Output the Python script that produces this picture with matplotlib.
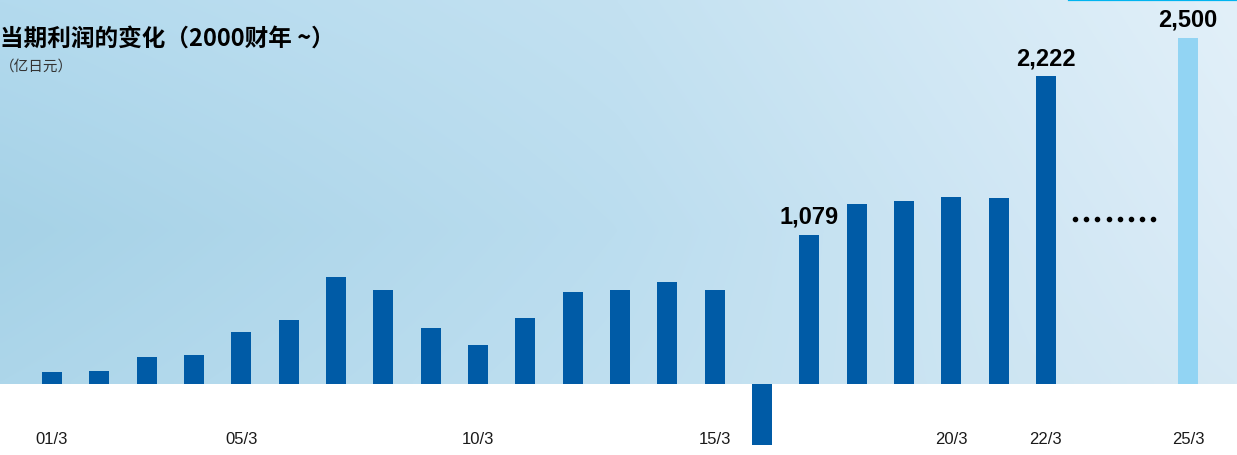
import numpy as np
import matplotlib
matplotlib.use("Agg")
import matplotlib.pyplot as plt
from matplotlib.lines import Line2D

# net profit by fiscal year end (100 million yen)
years = ["01/3", "02/3", "03/3", "04/3", "05/3", "06/3", "07/3", "08/3",
         "09/3", "10/3", "11/3", "12/3", "13/3", "14/3", "15/3", "16/3",
         "17/3", "18/3", "19/3", "20/3", "21/3", "22/3"]
profit = [85, 93, 192, 206, 377, 463, 776, 676,
          406, 278, 477, 662, 676, 733, 676, -440,
          1079, 1303, 1324, 1353, 1346, 2222]

forecast_year = "25/3"
forecast_value = 2500

shown_ticks = ["01/3", "05/3", "10/3", "15/3", "20/3", "22/3", "25/3"]
value_labels = {"17/3": "1,079", "22/3": "2,222", "25/3": "2,500"}

bar_color = "#005ba6"
forecast_color = "#92d4f3"

W, H = 1237, 456
fig = plt.figure(figsize=(W / 100, H / 100), dpi=100)
fig.patch.set_facecolor("white")
ax = fig.add_axes([0, 0, 1, 1])
ax.set_facecolor("none")

# x: one slot per fiscal year, 01/3 = 0
x_main = np.arange(len(years))
x_fc = years.index("22/3") + 3
px_per_slot = 47.33
x0_px = 52
xlim = (-x0_px / px_per_slot, (W - x0_px) / px_per_slot)
units_per_px = 7.22
zero_px = 71  # zero line, pixels above the bottom edge
ylim = (-zero_px * units_per_px, (H - zero_px) * units_per_px)
ax.set_xlim(*xlim)
ax.set_ylim(*ylim)
ax.axis("off")

# light blue backdrop above the zero line, fading to the right
nx, ny = 256, 64
left_col = np.array([[0xb3, 0xda, 0xee], [0xa6, 0xd2, 0xe7], [0xad, 0xd6, 0xea]]) / 255
mid_col = np.array([[0xc3, 0xe1, 0xf1], [0xbb, 0xdd, 0xef], [0xbf, 0xdf, 0xf0]]) / 255
right_col = np.array([[0xe2, 0xf0, 0xf9], [0xdc, 0xec, 0xf7], [0xd6, 0xe9, 0xf4]]) / 255
vy = np.linspace(0, 1, ny)
tx = np.linspace(0, 1, nx)
grad = np.zeros((ny, nx, 3))
for c in range(3):
    lcol = np.interp(vy, [0, 0.6, 1], left_col[:, c])
    mcol = np.interp(vy, [0, 0.6, 1], mid_col[:, c])
    rcol = np.interp(vy, [0, 0.6, 1], right_col[:, c])
    for j in range(ny):
        grad[j, :, c] = np.interp(tx, [0, 0.5, 1], [lcol[j], mcol[j], rcol[j]])
ax.imshow(grad, extent=(xlim[0], xlim[1], 0, ylim[1]), origin="upper",
          aspect="auto", zorder=0, interpolation="bilinear")

ax.bar(x_main, profit, width=0.42, color=bar_color, zorder=2)
ax.bar([x_fc], [forecast_value], width=0.42, color=forecast_color, zorder=2)

# value labels on selected bars
lab_font = dict(family="Liberation Sans", fontsize=17, fontweight="bold", color="black")
for yr, txt in value_labels.items():
    if yr == forecast_year:
        xv, yv = x_fc, forecast_value
    else:
        xv, yv = years.index(yr), profit[years.index(yr)]
    ax.annotate(txt, (xv, yv), xytext=(0, 5), textcoords="offset points",
                ha="center", va="bottom", zorder=3, **lab_font)

# dotted gap between 22/3 and 25/3
dots_x = np.linspace(years.index("22/3") + 0.62, x_fc - 0.74, 8)
ax.plot(dots_x, [1190] * len(dots_x), linestyle="none", marker="o",
        markersize=3.0, color="black", zorder=3)

# year labels under the axis
all_x = {yr: i for i, yr in enumerate(years)}
all_x[forecast_year] = x_fc
for yr in shown_ticks:
    ax.text(all_x[yr], 16 / H, yr, transform=ax.get_xaxis_transform(),
            ha="center", va="center", family="Liberation Sans", fontsize=12,
            color="#1a1a1a")

# title and unit
fig.text(0.0, 1 - 39 / H, "当期利润的变化（2000财年 ~）", ha="left", va="center",
         family=["Noto Sans CJK SC", "DejaVu Sans"], fontsize=17,
         fontweight="bold", color="black")
fig.text(0.0, 1 - 67 / H, "（亿日元）", ha="left", va="center",
         family=["Noto Sans CJK SC", "DejaVu Sans"], fontsize=10.5,
         color="#333333")

# thin accent line at the top right
fig.add_artist(Line2D([1069 / W, 1.0], [1 - 1 / H, 1 - 1 / H], color="#00b4f0",
                      linewidth=1.6, transform=fig.transFigure))

fig.savefig("out.png", dpi=100)
plt.close(fig)
